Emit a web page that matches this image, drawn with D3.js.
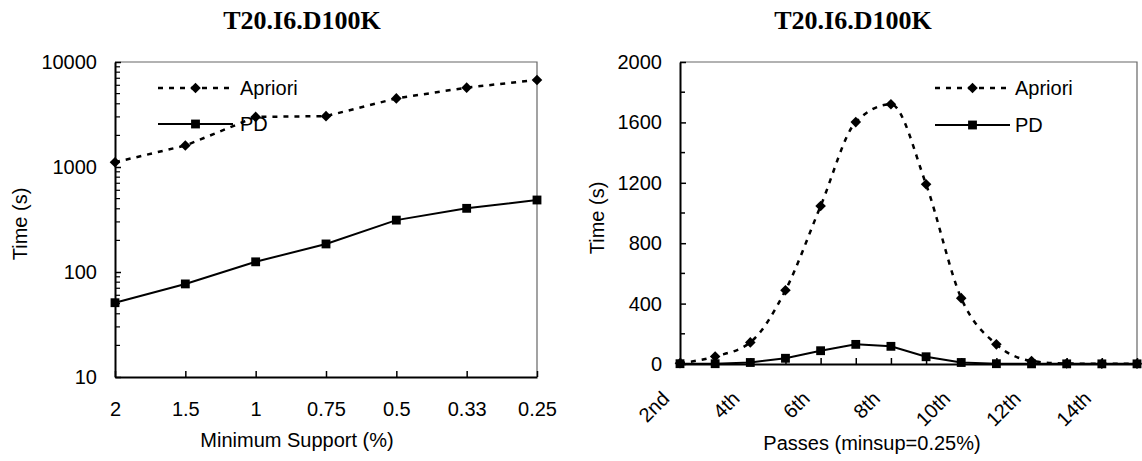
<!DOCTYPE html>
<html>
<head>
<meta charset="utf-8">
<script src="https://cdn.jsdelivr.net/npm/d3@7"></script>
<style>
  body { margin: 0; background: #fff; }
  text { font-family: "Liberation Sans", Arial, sans-serif; font-size: 20px; fill: #000; }
  .title { font-family: "Liberation Serif", "Times New Roman", serif; font-weight: bold; font-size: 26px; }
</style>
</head>
<body>
<script>
// left panel: time vs minimum support (log scale)
const supports = ['2', '1.5', '1', '0.75', '0.5', '0.33', '0.25'];
const aprioriBySupport = [1110, 1600, 3000, 3050, 4500, 5700, 6750];
const pdBySupport = [51, 77, 125, 185, 312, 404, 485];
const logTicks = [10, 100, 1000, 10000];

// right panel: time per pass at minsup = 0.25%
const passes = ['2nd', '3rd', '4th', '5th', '6th', '7th', '8th', '9th', '10th', '11th', '12th', '13th', '14th', '15th'];
const passLabels = ['2nd', '4th', '6th', '8th', '10th', '12th', '14th'];
const aprioriByPass = [5, 50, 143, 488, 1046, 1602, 1720, 1190, 436, 130, 20, 3, 2, 2];
const pdByPass = [2, 2, 10, 38, 88, 130, 117, 48, 10, 2, 1, 1, 1, 1];
const linTicks = [0, 400, 800, 1200, 1600, 2000];
const linMinor = [200, 600, 1000, 1400, 1800];

const seriesNames = ['Apriori', 'PD'];

const svg = d3.select('body')
    .append('svg')
    .attr('width', 1142)
    .attr('height', 461);

const diamond = d3.symbol(d3.symbolSquare, 56);
const square = d3.symbol(d3.symbolSquare, 78);

const drawFrame = (g, x0, x1, y0, y1) => {
    g.append('path')
        .attr('d', `M${x0},${y0}H${x1}V${y1}`)
        .attr('fill', 'none')
        .attr('stroke', '#666')
        .attr('stroke-width', 1.2);
};

const drawAxes = (g, x, y, yAxis, bottom, left) => {
    const gy = g.append('g')
        .attr('transform', `translate(${left},0)`)
        .call(yAxis);
    gy.select('.domain').attr('stroke-width', 2);
    gy.selectAll('.tick line').attr('stroke-width', 1.5);
    gy.selectAll('text').attr('font-size', null).attr('font-family', null);

    const gx = g.append('g')
        .attr('transform', `translate(0,${bottom})`)
        .call(d3.axisBottom(x).tickSize(-6).tickSizeOuter(0).tickPadding(25));
    gx.select('.domain').attr('stroke-width', 2);
    gx.selectAll('.tick line').attr('stroke-width', 1.5);
    gx.selectAll('text').attr('font-size', null).attr('font-family', null);
    return gx;
};

const drawSeries = (g, x, y, cats, apriori, pd, curve) => {
    const aLine = d3.line().x((d, i) => x(cats[i])).y(d => y(d)).curve(curve);
    const pLine = d3.line().x((d, i) => x(cats[i])).y(d => y(d));

    g.append('path')
        .attr('d', aLine(apriori))
        .attr('fill', 'none')
        .attr('stroke', '#000')
        .attr('stroke-width', 2.5)
        .attr('stroke-dasharray', '5,6');

    g.append('path')
        .attr('d', pLine(pd))
        .attr('fill', 'none')
        .attr('stroke', '#000')
        .attr('stroke-width', 2);

    g.append('g')
        .selectAll('path')
        .data(apriori)
        .join('path')
        .attr('d', diamond)
        .attr('transform', (d, i) => `translate(${x(cats[i])},${y(d)}) rotate(45)`);

    g.append('g')
        .selectAll('path')
        .data(pd)
        .join('path')
        .attr('d', square)
        .attr('transform', (d, i) => `translate(${x(cats[i])},${y(d)})`);
};

const drawLegend = (g, lx0, lx1, tx, rows) => {
    const mid = (lx0 + lx1) / 2;
    const item = g.append('g')
        .selectAll('g')
        .data(seriesNames)
        .join('g')
        .attr('transform', (d, i) => `translate(0,${rows[i]})`);

    item.append('line')
        .attr('x1', lx0).attr('x2', lx1)
        .attr('stroke', '#000')
        .attr('stroke-width', (d, i) => i === 0 ? 2.5 : 2)
        .attr('stroke-dasharray', (d, i) => i === 0 ? '5,6' : null);

    item.append('path')
        .attr('d', (d, i) => i === 0 ? diamond() : square())
        .attr('transform', (d, i) => `translate(${mid},0)` + (i === 0 ? ' rotate(45)' : ''));

    item.append('text')
        .attr('x', tx)
        .attr('dy', '0.35em')
        .text(d => d);
};

const label = (g, text, x, y, rotate) => {
    g.append('text')
        .attr('text-anchor', 'middle')
        .attr('dy', '0.35em')
        .attr('transform', `translate(${x},${y})` + (rotate ? ' rotate(-90)' : ''))
        .text(text);
};

// ---------- left chart ----------
{
    const g = svg.append('g');
    const left = 115, right = 537, top = 62, bottom = 377;

    const x = d3.scalePoint().domain(supports).range([left, right]);
    const y = d3.scaleLog().domain([10, 10000]).range([bottom, top]);

    const minor = [];
    logTicks.slice(0, -1).forEach(t => d3.range(2, 10).forEach(k => minor.push(t * k)));

    drawFrame(g, left, right, top, bottom);

    g.append('g')
        .selectAll('line')
        .data(minor)
        .join('line')
        .attr('x1', left).attr('x2', left + 5)
        .attr('y1', d => y(d)).attr('y2', d => y(d))
        .attr('stroke', '#000')
        .attr('stroke-width', 1.2);

    drawAxes(g, x, y,
        d3.axisLeft(y).tickValues(logTicks).tickFormat(d3.format('d'))
            .tickSize(-6).tickSizeOuter(0).tickPadding(18),
        bottom, left);

    drawSeries(g, x, y, supports, aprioriBySupport, pdBySupport, d3.curveLinear);
    drawLegend(g, 158, 233, 240, [88, 124]);

    g.append('text').attr('class', 'title')
        .attr('x', 302).attr('y', 29)
        .attr('text-anchor', 'middle')
        .text('T20.I6.D100K');
    label(g, 'Time (s)', 20, 224, true);
    label(g, 'Minimum Support (%)', 297, 440, false);
}

// ---------- right chart ----------
{
    const g = svg.append('g');
    const left = 680, right = 1137, top = 62, bottom = 364;

    const x = d3.scalePoint().domain(passes).range([left, right]);
    const y = d3.scaleLinear().domain([0, 2000]).range([bottom, top]);

    drawFrame(g, left, right, top, bottom);

    g.append('g')
        .selectAll('line')
        .data(linMinor)
        .join('line')
        .attr('x1', left).attr('x2', left + 5)
        .attr('y1', d => y(d)).attr('y2', d => y(d))
        .attr('stroke', '#000')
        .attr('stroke-width', 1.5);

    const gx = drawAxes(g, x, y,
        d3.axisLeft(y).tickValues(linTicks).tickFormat(d3.format('d'))
            .tickSize(-6).tickSizeOuter(0).tickPadding(18),
        bottom, left);

    gx.selectAll('.tick text')
        .text(d => passLabels.includes(d) ? d : '')
        .attr('x', 0).attr('y', 0).attr('dy', 0)
        .attr('text-anchor', 'end')
        .attr('transform', 'translate(-10,36) rotate(-45)');

    drawSeries(g, x, y, passes, aprioriByPass, pdByPass, d3.curveMonotoneX);
    drawLegend(g, 935, 1010, 1015, [88, 125]);

    g.append('text').attr('class', 'title')
        .attr('x', 853).attr('y', 29)
        .attr('text-anchor', 'middle')
        .text('T20.I6.D100K');
    label(g, 'Time (s)', 597, 218, true);
    label(g, 'Passes (minsup=0.25%)', 872, 443, false);
}
</script>
</body>
</html>
